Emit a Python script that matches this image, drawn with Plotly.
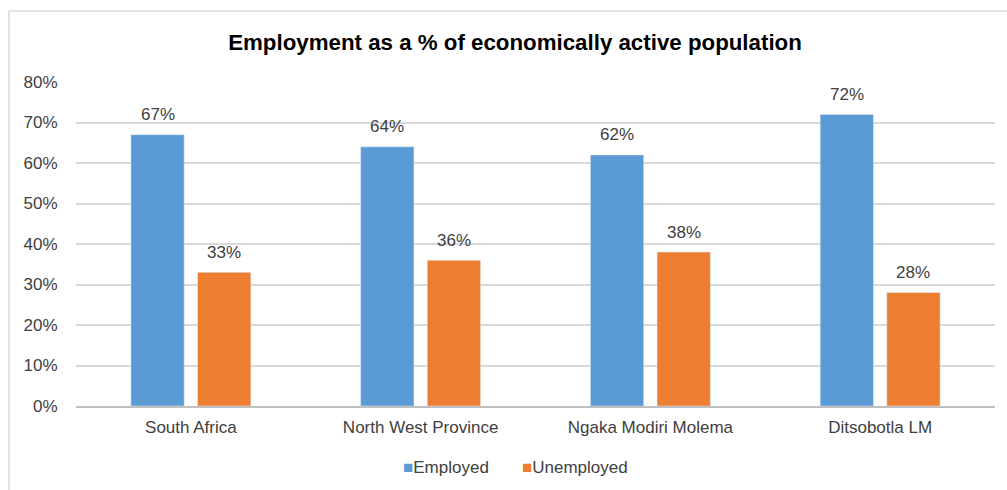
import plotly.graph_objects as go

categories = ["South Africa", "North West Province", "Ngaka Modiri Molema", "Ditsobotla LM"]
employed = [67, 64, 62, 72]
unemployed = [33, 36, 38, 28]
y_ticks = [0, 10, 20, 30, 40, 50, 60, 70, 80]
y_tick_labels = [f"{v}%" for v in y_ticks]
colors = {"Employed": "#5B9BD5", "Unemployed": "#ED7D31"}

W, H = 1007, 490
L, R, T, B = 76, 12, 82, 84
pw = W - L - R
ph = H - T - B

font_fam = "Liberation Sans, Arial, sans-serif"
txt_col = "#404040"

fig = go.Figure()
fig.add_trace(go.Bar(x=categories, y=employed, name="Employed",
                     marker_color=colors["Employed"], showlegend=False))
fig.add_trace(go.Bar(x=categories, y=unemployed, name="Unemployed",
                     marker_color=colors["Unemployed"], showlegend=False))

# data labels above bars
slot = pw / 4 * (1 - 0.42) / 2
for series, sign in ((employed, -1), (unemployed, 1)):
    for c, v in zip(categories, series):
        fig.add_annotation(x=c, y=v, xref="x", yref="y", text=f"{v}%",
                           showarrow=False, xshift=sign * slot / 2, yshift=20,
                           yanchor="middle", font=dict(size=17, color=txt_col))

# legend (Excel style: small square right next to the text)
fig.add_annotation(
    xref="paper", yref="paper", x=(515 - L) / pw, y=-(467 - T - ph) / ph,
    xanchor="center", yanchor="middle", showarrow=False,
    text=(f'<span style="color:{colors["Employed"]};font-size:17px">■</span>Employed'
          f'&nbsp;&nbsp;&nbsp;&nbsp;&nbsp;&nbsp;&nbsp;'
          f'<span style="color:{colors["Unemployed"]};font-size:17px">■</span>Unemployed'),
    font=dict(size=17, color=txt_col),
)

fig.update_layout(
    width=W, height=H,
    margin=dict(l=L, r=R, t=T, b=B, autoexpand=False),
    paper_bgcolor="white", plot_bgcolor="white",
    barmode="group", bargap=0.42, bargroupgap=0.2,
    font=dict(family=font_fam, size=17, color=txt_col),
    title=dict(
        text="<b>Employment as a % of economically active population</b>",
        x=515 / W, xanchor="center", y=1 - 42 / H, yanchor="middle",
        xref="container", yref="container",
        font=dict(size=22.3, color="#000000", family=font_fam),
    ),
    showlegend=False,
)
fig.update_yaxes(
    range=[0, 80], tickvals=y_ticks, ticktext=y_tick_labels,
    showgrid=True, gridcolor="#D9D9D9", gridwidth=1.5,
    zeroline=False, showline=False,
    ticks="outside", ticklen=14, tickcolor="rgba(0,0,0,0)",
    tickfont=dict(size=17, color=txt_col),
)
fig.update_xaxes(
    showline=True, linecolor="#BFBFBF", linewidth=2,
    ticks="outside", ticklen=5, tickcolor="rgba(0,0,0,0)",
    tickfont=dict(size=17, color=txt_col),
)

# outer chart border
fig.add_shape(
    type="rect", xref="paper", yref="paper",
    x0=(9 - L) / pw, x1=(W + 5 - L) / pw,
    y0=-(H + 5 - T - ph) / ph - 0.05, y1=1 + (T - 11) / ph,
    line=dict(color="#D9D9D9", width=1.5), fillcolor="rgba(0,0,0,0)", layer="below",
)

fig.write_html("out.html")
